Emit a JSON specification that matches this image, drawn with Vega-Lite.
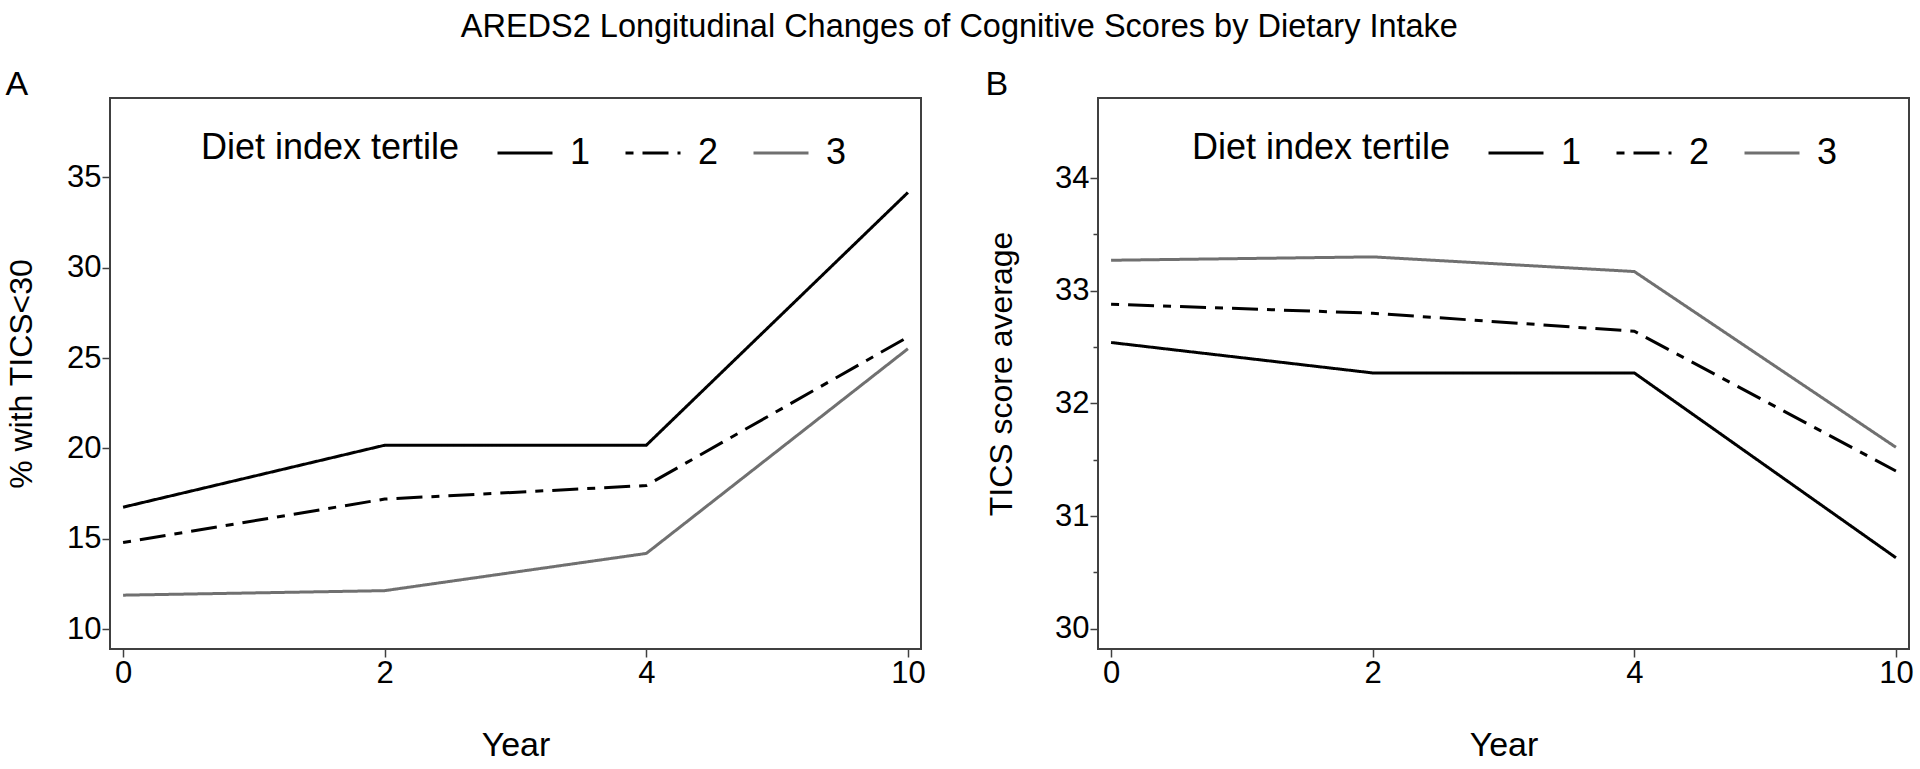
{
  "$schema": "https://vega.github.io/schema/vega-lite/v6.json",
  "padding": {"left": 4, "top": 10, "right": 2, "bottom": 2},
  "background": "white",
  "title": {"text": "AREDS2 Longitudinal Changes of Cognitive Scores by Dietary Intake", "fontSize": 32.5, "fontWeight": "normal", "anchor": "middle", "offset": 24, "color": "#000000"},
  "spacing": 57,
  "config": {
    "font": "Liberation Sans",
    "view": {"stroke": "#404040", "strokeWidth": 2},
    "axis": {"grid": false, "domain": false, "tickColor": "#404040", "tickWidth": 1.5, "tickSize": 8, "labelFontSize": 31, "labelColor": "#000000", "titleFontSize": 32, "titleFontWeight": "normal", "titleColor": "#000000", "labelPadding": 1},
    "legend": {"labelFontSize": 36, "titleFontSize": 36, "titleFontWeight": "normal", "labelColor": "#000000", "titleColor": "#000000", "titleLimit": 500},
    "line": {"strokeWidth": 3}
  },
  "datasets": {
    "a": [
      {"year": 0, "tertile": "1", "value": 16.75},
      {"year": 2, "tertile": "1", "value": 20.18},
      {"year": 4, "tertile": "1", "value": 20.18},
      {"year": 10, "tertile": "1", "value": 34.17},
      {"year": 0, "tertile": "2", "value": 14.79},
      {"year": 2, "tertile": "2", "value": 17.2},
      {"year": 4, "tertile": "2", "value": 17.95},
      {"year": 10, "tertile": "2", "value": 26.17},
      {"year": 0, "tertile": "3", "value": 11.88},
      {"year": 2, "tertile": "3", "value": 12.13},
      {"year": 4, "tertile": "3", "value": 14.19},
      {"year": 10, "tertile": "3", "value": 25.52}
    ],
    "b": [
      {"year": 0, "tertile": "1", "value": 32.54},
      {"year": 2, "tertile": "1", "value": 32.27},
      {"year": 4, "tertile": "1", "value": 32.27},
      {"year": 10, "tertile": "1", "value": 30.63},
      {"year": 0, "tertile": "2", "value": 32.88},
      {"year": 2, "tertile": "2", "value": 32.8},
      {"year": 4, "tertile": "2", "value": 32.64},
      {"year": 10, "tertile": "2", "value": 31.4},
      {"year": 0, "tertile": "3", "value": 33.27},
      {"year": 2, "tertile": "3", "value": 33.3},
      {"year": 4, "tertile": "3", "value": 33.17},
      {"year": 10, "tertile": "3", "value": 31.61}
    ]
  },
  "hconcat": [
    {
      "title": {"text": "A", "anchor": "start", "frame": "bounds", "fontSize": 34, "fontWeight": "normal", "offset": -4, "color": "#000000"},
      "width": 811,
      "height": 551,
      "data": {"name": "a"},
      "mark": {"type": "line", "strokeWidth": 3},
      "encoding": {
        "x": {"field": "year", "type": "ordinal", "sort": [0, 2, 4, 10], "scale": {"type": "point", "padding": 0.05}, "axis": {"title": "Year", "titleFontSize": 34, "labelAngle": 0, "titlePadding": 40}},
        "y": {"field": "value", "type": "quantitative", "scale": {"domain": [8.9, 39.4], "nice": false, "zero": false}, "axis": {"values": [10, 15, 20, 25, 30, 35], "title": "% with TICS<30", "titlePadding": 28}},
        "color": {"field": "tertile", "type": "nominal", "scale": {"domain": ["1", "2", "3"], "range": ["#000000", "#000000", "#707070"]}, "legend": {"title": "Diet index tertile", "orient": "none", "legendX": 91, "legendY": 26, "direction": "horizontal", "titleOrient": "left", "titlePadding": 36, "symbolType": "stroke", "symbolSize": 3025, "symbolStrokeWidth": 3, "labelOffset": 16, "columnPadding": 28}},
        "strokeDash": {"field": "tertile", "type": "nominal", "scale": {"domain": ["1", "2", "3"], "range": [[1, 0], [8, 9, 26, 9], [1, 0]]}, "legend": {"title": "Diet index tertile", "orient": "none", "legendX": 91, "legendY": 26, "direction": "horizontal", "titleOrient": "left", "titlePadding": 36, "symbolType": "stroke", "symbolSize": 3025, "symbolStrokeWidth": 3, "labelOffset": 16, "columnPadding": 28}}
      }
    },
    {
      "title": {"text": "B", "anchor": "start", "frame": "bounds", "fontSize": 34, "fontWeight": "normal", "offset": -4, "color": "#000000"},
      "width": 811,
      "height": 551,
      "data": {"name": "b"},
      "mark": {"type": "line", "strokeWidth": 3},
      "encoding": {
        "x": {"field": "year", "type": "ordinal", "sort": [0, 2, 4, 10], "scale": {"type": "point", "padding": 0.05}, "axis": {"title": "Year", "titleFontSize": 34, "labelAngle": 0, "titlePadding": 40}},
        "y": {"field": "value", "type": "quantitative", "scale": {"domain": [29.82, 34.71], "nice": false, "zero": false}, "axis": {"values": [30, 30.5, 31, 31.5, 32, 32.5, 33, 33.5, 34], "labelExpr": "datum.value % 1 ? '' : format(datum.value, 'd')", "labelOverlap": false, "tickSize": {"condition": {"test": "datum.value % 1", "value": 5}, "value": 8}, "title": "TICS score average", "titlePadding": 36}},
        "color": {"field": "tertile", "type": "nominal", "scale": {"domain": ["1", "2", "3"], "range": ["#000000", "#000000", "#707070"]}, "legend": {"title": "Diet index tertile", "orient": "none", "legendX": 94, "legendY": 26, "direction": "horizontal", "titleOrient": "left", "titlePadding": 36, "symbolType": "stroke", "symbolSize": 3025, "symbolStrokeWidth": 3, "labelOffset": 16, "columnPadding": 28}},
        "strokeDash": {"field": "tertile", "type": "nominal", "scale": {"domain": ["1", "2", "3"], "range": [[1, 0], [8, 9, 26, 9], [1, 0]]}, "legend": {"title": "Diet index tertile", "orient": "none", "legendX": 94, "legendY": 26, "direction": "horizontal", "titleOrient": "left", "titlePadding": 36, "symbolType": "stroke", "symbolSize": 3025, "symbolStrokeWidth": 3, "labelOffset": 16, "columnPadding": 28}}
      }
    }
  ],
  "resolve": {"scale": {"color": "independent", "strokeDash": "independent"}, "legend": {"color": "independent", "strokeDash": "independent"}}
}
